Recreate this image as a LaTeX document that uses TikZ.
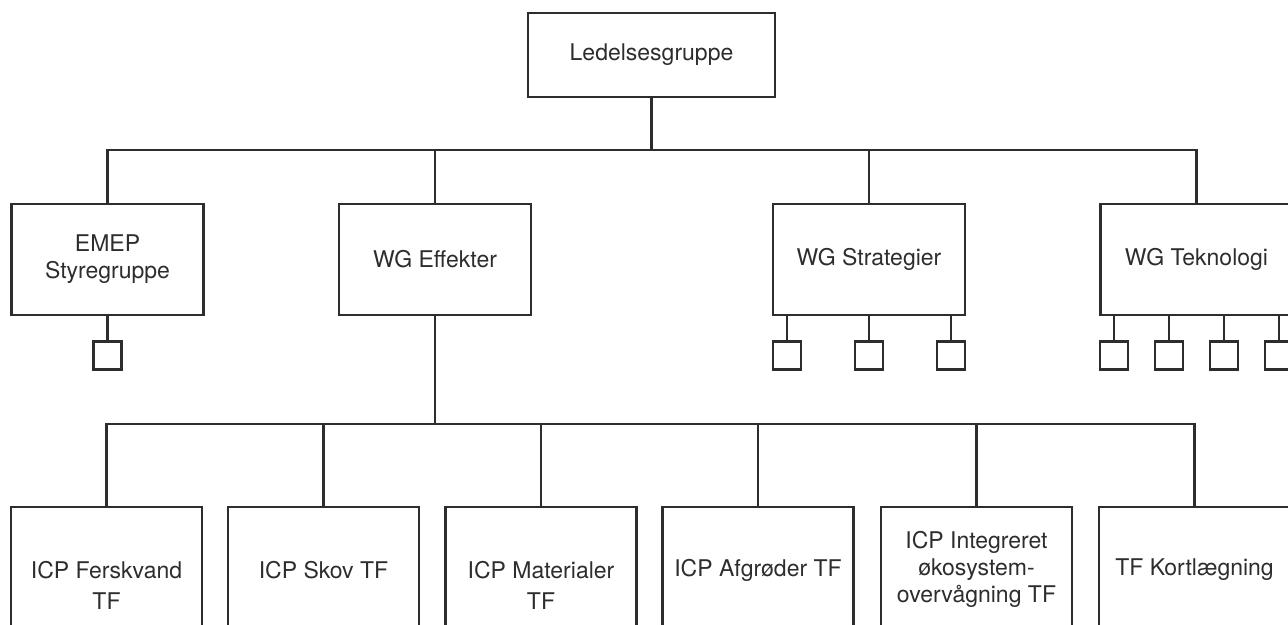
\documentclass[tikz,border=0pt]{standalone}
\usepackage{fontspec}
\setmainfont{TeX Gyre Heros}
\usetikzlibrary{calc}
\definecolor{ink}{RGB}{45,45,45}

\begin{document}
\begin{tikzpicture}[
  x=0.5pt, y=-0.5pt,
  box/.style={draw=ink, line width=1.1pt, align=center, inner sep=0pt, text=ink,
    font=\fontsize{11.5}{13.5}\selectfont},
  wg/.style={box, minimum width=96pt, minimum height=55.5pt},
  tf/.style={box, anchor=north, minimum width=95.5pt},
  sub/.style={draw=ink, line width=1.1pt, minimum size=14pt, inner sep=0pt},
  line/.style={draw=ink, line width=1.1pt}
]
\useasboundingbox (0,0) rectangle (1288,625);
\clip (0,0) rectangle (1288,625);
% top level
\node[box, minimum width=123.5pt, minimum height=42pt] (ledelse) at (651.5,55) {Ledelsesgruppe};
% working groups
\node[wg] (emep) at (107.5,259.5) {EMEP\\Styregruppe};
\node[wg] (effekter) at (435,259.5) {WG Effekter};
\node[wg] (strategi) at (869,259.5) {WG Strategier};
\node[wg] (teknologi) at (1196.5,259.5) {WG Teknologi};
\coordinate (topbar) at (651.5,150);
\draw[line] (ledelse) -- (topbar);
\foreach \n in {emep,effekter,strategi,teknologi}
  \draw[line] (\n.north) |- (topbar);
% small boxes under the groups
\node[sub] (emep-1) at ($(emep.center)+(0,96)$) {};
\draw[line] (emep-1.north |- emep.south) -- (emep-1.north);
\foreach \i/\dx in {1/-82,2/0,3/82} {
  \node[sub] (strategi-\i) at ($(strategi.center)+(\dx,96)$) {};
  \draw[line] (strategi-\i.north |- strategi.south) -- (strategi-\i.north);
}
\foreach \i/\dx in {1/-82.5,2/-27.5,3/27.5,4/82.5} {
  \node[sub] (teknologi-\i) at ($(teknologi.center)+(\dx,96)$) {};
  \draw[line] (teknologi-\i.north |- teknologi.south) -- (teknologi-\i.north);
}
% task forces under WG Effekter
\node[tf, minimum height=78pt] (ferskvand) at (106.5,506) {ICP Ferskvand\\[2pt]TF};
\node[tf, minimum height=63pt] (skov) at (323.5,506) {ICP Skov TF};
\node[tf, minimum height=78pt] (materialer) at (541,506) {ICP Materialer\\[2pt]TF};
\node[tf, minimum height=63pt] (afgroeder) at (758,506) {ICP Afgrøder TF};
\node[tf, minimum height=62pt] (integreret) at (976.5,506) {ICP Integreret\\økosystem-\\overvågning TF};
\node[tf, minimum height=63pt] (kortlaeg) at (1194.5,506) {TF Kortlægning};
\coordinate (lowbar) at (435,424);
\draw[line] (effekter) -- (lowbar);
\foreach \n in {ferskvand,skov,materialer,afgroeder,integreret,kortlaeg}
  \draw[line] (\n.north) |- (lowbar);
\end{tikzpicture}
\end{document}
